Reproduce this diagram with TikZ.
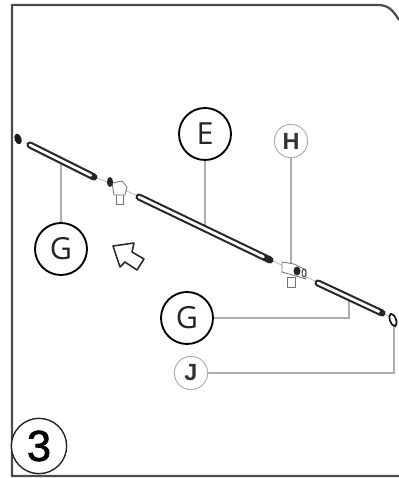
\documentclass[tikz,border=0pt]{standalone}
\usepackage{fontspec}
\setmainfont{Open Sans}
\newfontfamily\partfont{Liberation Sans}
\newfontfamily\stepfont[FakeBold=1.6]{Liberation Sans}
\usetikzlibrary{arrows,positioning,calc}
\definecolor{leadgray}{gray}{0.68}
\definecolor{framegray}{gray}{0.3}
\tikzstyle{bigcall}=[circle,draw=black,line width=1.6pt,fill=white,inner sep=0pt,minimum size=1.56cm,font=\fontsize{26}{26}\selectfont,text=black!85]
\tikzstyle{smallcall}=[circle,draw=leadgray,line width=0.8pt,fill=white,inner sep=0pt,minimum size=1cm,font=\partfont\fontsize{20}{20}\selectfont\bfseries,text=black!80]
\tikzstyle{stepcall}=[circle,draw=black!85,line width=1.2pt,fill=white,inner sep=0pt,minimum size=1.66cm,font=\stepfont\fontsize{37}{37}\selectfont,text=black]
\tikzstyle{lead}=[draw=leadgray,line width=1pt]
\tikzstyle{rodout}=[draw=black!85,line width=6pt,line cap=round]
\tikzstyle{rodin}=[draw=white,line width=2.4pt,line cap=round]
\tikzstyle{part}=[draw=black!55,line width=0.7pt,fill=white]

\begin{document}
\begin{tikzpicture}
[x=0.03cm,y=-0.03cm]
 \useasboundingbox (0,0) rectangle (399,478);
 % frame
 \draw[framegray,line width=1.9pt] (399,20) .. controls (393,10) and (388,5) .. (378,5) -- (12,5) -- (12,476) -- (399,476);
 % rod ends
 \coordinate (g1a) at (30,145);
 \coordinate (g1b) at (94,177);
 \coordinate (ea) at (139,197);
 \coordinate (eb) at (270,260);
 \coordinate (g2a) at (318,283);
 \coordinate (g2b) at (382,313);
 \coordinate (g1mid) at (61,161);
 \coordinate (emid) at (205,228);
 \coordinate (hmid) at (291,264);
 \coordinate (g2mid) at (349,298);
 \coordinate (g2bend) at (349,318);
 \coordinate (jmid) at (394,324);
 \coordinate (jbend) at (394,373);
 % thin centre line
 \draw[black!35,line width=0.5pt] (25,142) -- (29,145) (95,177) -- (138,196) (271,260) -- (317,282) (383,313) -- (390,317);
 % callouts
 \node[bigcall] (1g) at (61,249) {G};
 \node[bigcall] (2e) at (205,134) {E};
 \node[smallcall] (3h) at (291,141) {H};
 \node[bigcall] (4g) at (187,318) {G};
 \node[smallcall] (5j) at (191,373) {J};
 \node[stepcall] (step3) at (39,446) {3};
 \path[lead]
   (1g) edge (g1mid)
   (2e) edge (emid)
   (3h) edge (hmid);
 \draw[lead] (4g) -- (g2bend) -- (g2mid);
 \draw[lead] (5j) -- (jbend) -- (jmid);
 % rods
 \foreach \ra/\rb in {g1a/g1b,ea/eb,g2a/g2b} {
   \draw[rodout] (\ra) -- (\rb);
   \draw[rodin] (\ra) -- ($(\ra)!0.95!(\rb)$);
 }
 % left fitting
 \draw[part] (116,192) rectangle (123,204);
 \draw[part] (112,183) -- (122,181) -- (127,187) -- (125,195) -- (114,195) -- cycle;
 \fill[black!85] (110,182) ellipse (3 and 5);
 % right fitting
 \draw[part] (287,277) rectangle (295,287);
 \draw[part] (282,262) -- (294,264) -- (306,270) -- (306,279) -- (296,276) -- (282,272) -- cycle;
 \fill[black!85] (297,271) ellipse (3.5 and 4.5);
 \draw[black!70,line width=0.9pt] (304,273) ellipse (2 and 4);
 % end pieces
 \fill[black!90,rotate around={20:(18,139)}] (18,139) ellipse (3.5 and 5.5);
 \draw[black!90,line width=1.5pt,rotate around={20:(393,320)}] (393,320) ellipse (3 and 6.5);
 % arrow
 \draw[black!85,line width=1.3pt,fill=white,line join=round] (113,246) -- (134,243) -- (132,252) -- (144,259) -- (137,270) -- (125,262) -- (120,267) -- cycle;
\end{tikzpicture}
\end{document}
